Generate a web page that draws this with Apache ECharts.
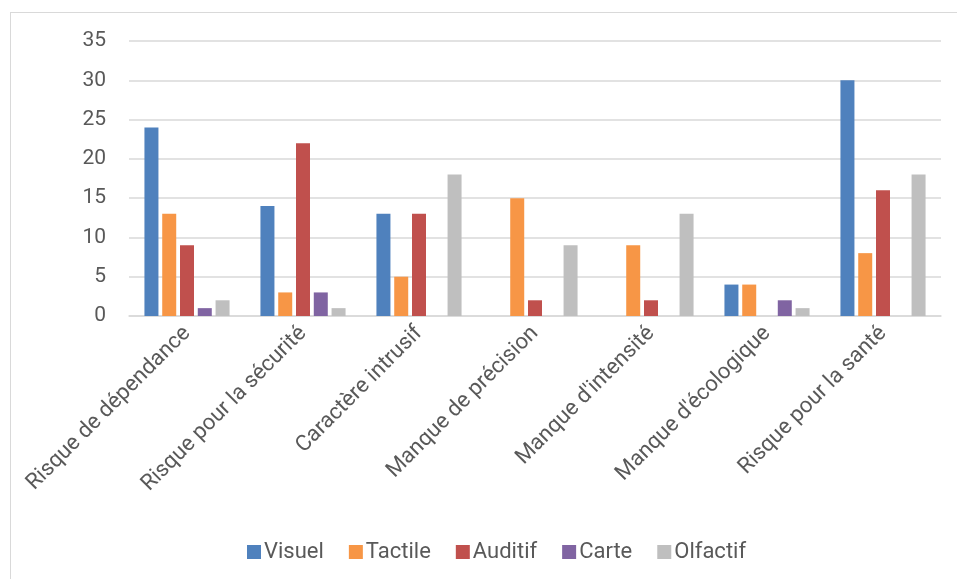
<!doctype html>
<html>
<head>
    <meta charset="utf-8">
    <title>Risques par modalité</title>
    <script src="https://cdn.jsdelivr.net/npm/echarts@6/dist/echarts.min.js"></script>
    <style>
        html, body { margin: 0; padding: 0; background: #fff; }
        #frame { position: absolute; left: 10px; top: 12px; width: 960px; height: 600px; border: 1px solid #d9d9d9; box-sizing: border-box; }
        #chart { position: absolute; left: 0; top: 0; width: 957px; height: 579px; }
    </style>
</head>
<body>
<div id="frame"></div>
<div id="chart"></div>
<script type="text/javascript">
    // données
    var categories = ['Risque de dépendance', 'Risque pour la sécurité', 'Caractère intrusif',
        'Manque de précision', "Manque d'intensité", "Manque d'écologique", 'Risque pour la santé'];
    var visuel   = [24, 14, 13, 0, 0, 4, 30];
    var tactile  = [13, 3, 5, 15, 9, 4, 8];
    var auditif  = [9, 22, 13, 2, 2, 0, 16];
    var carte    = [1, 3, 0, 0, 0, 2, 0];
    var olfactif = [2, 1, 18, 9, 13, 1, 18];
    var yTicks = [0, 5, 10, 15, 20, 25, 30, 35];

    var font = 'Roboto, "Liberation Sans", sans-serif';
    var txt = '#595959';

    function bar(name, data, color) {
        return {
            name: name,
            type: 'bar',
            data: data,
            barWidth: 14,
            barGap: '27%',
            itemStyle: { color: color }
        };
    }

    var myChart = echarts.init(document.getElementById('chart'));
    var option = {
        animation: false,
        grid: { left: 129, right: 16, top: 41, bottom: 263 },
        legend: {
            top: 536,
            left: 242,
            icon: 'rect',
            itemWidth: 14,
            itemHeight: 14,
            itemGap: 25,
            textStyle: { color: txt, fontSize: 22, fontFamily: font, padding: [0, 0, 0, -2] }
        },
        xAxis: {
            type: 'category',
            data: categories,
            axisLine: { lineStyle: { color: '#d9d9d9', width: 1.5 } },
            axisTick: { show: false },
            axisLabel: { rotate: 45, color: txt, fontSize: 22, fontFamily: font, margin: 14, interval: 0 }
        },
        yAxis: {
            type: 'value',
            min: yTicks[0],
            max: yTicks[yTicks.length - 1],
            interval: 5,
            axisLine: { show: false },
            axisTick: { show: false },
            splitLine: { lineStyle: { color: '#d9d9d9', width: 1.5 } },
            axisLabel: { color: txt, fontSize: 21, fontFamily: font, margin: 23 }
        },
        series: [
            bar('Visuel', visuel, '#4f81bd'),
            bar('Tactile', tactile, '#f79646'),
            bar('Auditif', auditif, '#c0504d'),
            bar('Carte', carte, '#8064a2'),
            bar('Olfactif', olfactif, '#bfbfbf')
        ]
    };
    myChart.setOption(option);
</script>
</body>
</html>
